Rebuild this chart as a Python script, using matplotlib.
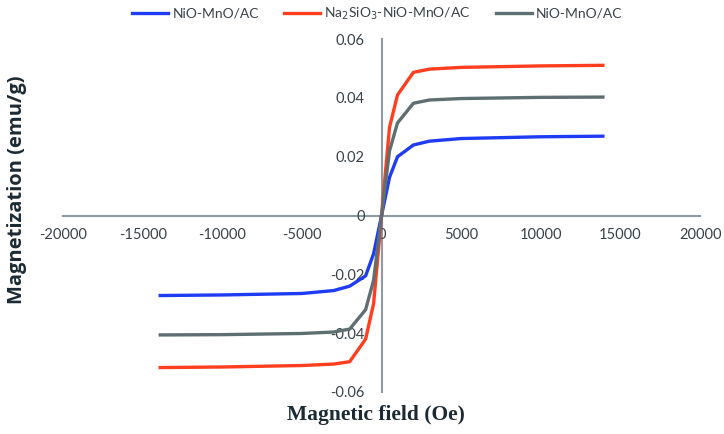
from __future__ import annotations

import matplotlib
matplotlib.use("Agg")
import matplotlib.pyplot as plt
from matplotlib.lines import Line2D

# Datos (campo en Oe, magnetización en emu/g)
campo = [-14000, -10000, -5000, -3000, -2000, -1000, -500, 0,
         500, 1000, 2000, 3000, 5000, 10000, 14000]

m_nio_mno = [-0.0272, -0.0270, -0.0265, -0.0255, -0.0240, -0.0205, -0.0130, 0.0,
             0.0130, 0.0200, 0.0240, 0.0253, 0.0262, 0.0268, 0.0270]
m_na2sio3 = [-0.0517, -0.0515, -0.0510, -0.0505, -0.0497, -0.0420, -0.0300, 0.0,
             0.0300, 0.0410, 0.0487, 0.0498, 0.0504, 0.0509, 0.0511]
m_nio_mno_gris = [-0.0406, -0.0405, -0.0401, -0.0396, -0.0386, -0.0320, -0.0220, 0.0,
                  0.0220, 0.0315, 0.0382, 0.0393, 0.0398, 0.0402, 0.0403]

etiquetas = ["NiO-MnO/AC", "Na$_2$SiO$_3$-NiO-MnO/AC", "NiO-MnO/AC"]
colores = ["#1f3cf5", "#ff3d1f", "#5f6e70"]

x_ticks = [-20000, -15000, -10000, -5000, 0, 5000, 10000, 15000, 20000]
y_ticks = [-0.06, -0.04, -0.02, 0.0, 0.02, 0.04, 0.06]
y_labels = ["-0.06", "-0.04", "-0.02", "0", "0.02", "0.04", "0.06"]

COLOR_EJE = "#8c9ca2"
COLOR_TEXTO = "#3a4248"


def generar_grafico(outfile: str = "out.png") -> None:
    fig = plt.figure(figsize=(7.24, 4.34), dpi=100)
    ax = fig.add_axes([0.087, 0.0968, 0.880, 0.813])

    series = [m_nio_mno, m_na2sio3, m_nio_mno_gris]
    for ys, color in zip(series, colores):
        ax.plot(campo, ys, color=color, linewidth=2.4, solid_capstyle="butt",
                solid_joinstyle="round", zorder=3)

    ax.set_xlim(-20000, 20000)
    ax.set_ylim(-0.06, 0.06)

    # Ejes cruzando en el origen, estilo Excel
    for lado in ("top", "right"):
        ax.spines[lado].set_visible(False)
    ax.spines["left"].set_position(("data", 0))
    ax.spines["bottom"].set_position(("data", 0))
    for lado in ("left", "bottom"):
        ax.spines[lado].set_color(COLOR_EJE)
        ax.spines[lado].set_linewidth(1.5)
        ax.spines[lado].set_zorder(1)

    ax.set_xticks(x_ticks)
    ax.set_xticklabels([str(t) for t in x_ticks])
    ax.set_yticks(y_ticks)
    ax.set_yticklabels(y_labels)
    ax.tick_params(axis="both", length=0, labelsize=10.5, colors=COLOR_TEXTO)
    ax.tick_params(axis="x", pad=9)
    ax.tick_params(axis="y", pad=12)
    for lbl in ax.get_xticklabels() + ax.get_yticklabels():
        lbl.set_family(["Lato", "DejaVu Sans"])

    fig.text(0.5195, 0.043, "Magnetic field (Oe)", ha="center", va="center",
             family=["Liberation Serif", "DejaVu Serif"], fontweight="bold",
             fontsize=15.5, color="#1c2a33")
    fig.text(0.024, 0.562, "Magnetization (emu/g)", ha="center", va="center",
             rotation=90, family=["Open Sans", "DejaVu Sans"], fontweight="bold",
             fontsize=14.5, color="#1c2a33")

    handles = [Line2D([0], [0], color=c, linewidth=2.4) for c in colores]
    fig.legend(handles, etiquetas, loc="center", bbox_to_anchor=(0.521, 0.968),
               ncol=3, frameon=False, handlelength=2.6, handletextpad=0.3,
               columnspacing=1.8, prop={"family": ["Lato", "DejaVu Sans"], "size": 10},
               labelcolor=COLOR_TEXTO)

    fig.savefig(outfile, dpi=100)
    plt.close(fig)


if __name__ == "__main__":
    generar_grafico()
